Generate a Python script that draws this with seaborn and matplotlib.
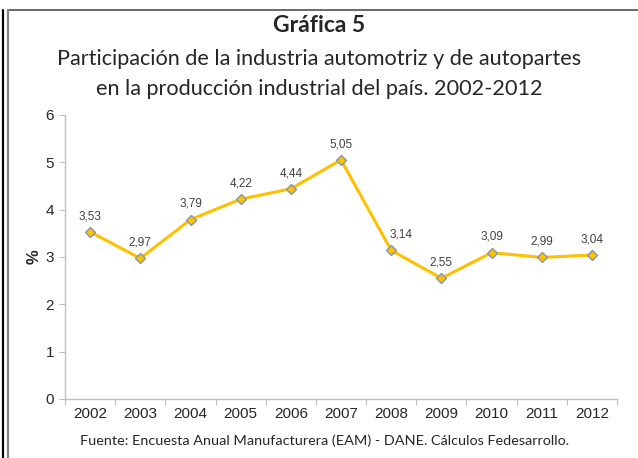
import pandas as pd
import matplotlib.pyplot as plt
import seaborn as sns
from matplotlib.lines import Line2D

# Datos de la gráfica
years = [2002, 2003, 2004, 2005, 2006, 2007, 2008, 2009, 2010, 2011, 2012]
share = [3.53, 2.97, 3.79, 4.22, 4.44, 5.05, 3.14, 2.55, 3.09, 2.99, 3.04]
labels = ['3,53', '2,97', '3,79', '4,22', '4,44', '5,05', '3,14', '2,55', '3,09', '2,99', '3,04']

df = pd.DataFrame({'year': years, 'share': share})

sns.set_style("white")
plt.rcParams['font.family'] = ['Liberation Sans', 'DejaVu Sans']

fig = plt.figure(figsize=(6.38, 4.58), dpi=100)
ax = fig.add_axes([0.102, 0.129, 0.865, 0.620])

sns.lineplot(data=df, x='year', y='share', ax=ax, color='#FFC000', linewidth=2.2,
             marker='D', markersize=5, markerfacecolor='#FFC000',
             markeredgecolor='#8497B0', markeredgewidth=1.0)

# etiquetas de datos
for x, y, t in zip(years, share, labels):
    dx = 7 if x == 2008 else 0
    ax.annotate(t, (x, y), xytext=(dx, 7), textcoords='offset points',
                ha='center', va='bottom', fontsize=8.5, color='#404040')

ax.set_xlim(2001.5, 2012.5)
ax.set_ylim(0, 6)
ax.set_yticks(range(0, 7))
ax.set_xticks([y - 0.5 for y in years] + [2012.5])
ax.set_xticklabels([])
ax.set_xticks(years, minor=True)
ax.set_xticklabels([str(y) for y in years], minor=True)
ax.tick_params(axis='x', which='minor', length=0, labelsize=11, pad=6)
ax.tick_params(axis='x', which='major', length=4, color='#bfbfbf', direction='out', bottom=True)
ax.tick_params(axis='y', length=4, color='#bfbfbf', direction='out', left=True, labelsize=11, pad=4)
ax.set_xlabel('')
ax.set_ylabel('%', fontsize=12, fontweight='bold', labelpad=3)

for s in ['top', 'right']:
    ax.spines[s].set_visible(False)
for s in ['left', 'bottom']:
    ax.spines[s].set_color('#bfbfbf')
    ax.spines[s].set_linewidth(1.0)

# títulos y fuente
fig.text(0.5, 0.944, 'Gráfica 5', ha='center', va='center', fontsize=16.5,
         fontweight='bold', family='Lato')
fig.text(0.5, 0.872, 'Participación de la industria automotriz y de autopartes',
         ha='center', va='center', fontsize=15.6, family='Lato')
fig.text(0.5, 0.806, 'en la producción industrial del país. 2002-2012',
         ha='center', va='center', fontsize=15.6, family='Lato')
fig.text(0.508, 0.037, 'Fuente: Encuesta Anual Manufacturera (EAM) - DANE. Cálculos Fedesarrollo.',
         ha='center', va='center', fontsize=10.4, family='Lato')

# marco
fig.add_artist(Line2D([0.0125, 1.0], [0.978, 0.978], color='#505050', lw=1.2))
fig.add_artist(Line2D([0.0125, 0.0125], [0.0, 0.978], color='#808080', lw=1.6))
fig.add_artist(Line2D([0.004, 0.004], [0.0, 0.978], color='#000000', lw=1.6))

plt.savefig('out.png', dpi=100, facecolor='white')
